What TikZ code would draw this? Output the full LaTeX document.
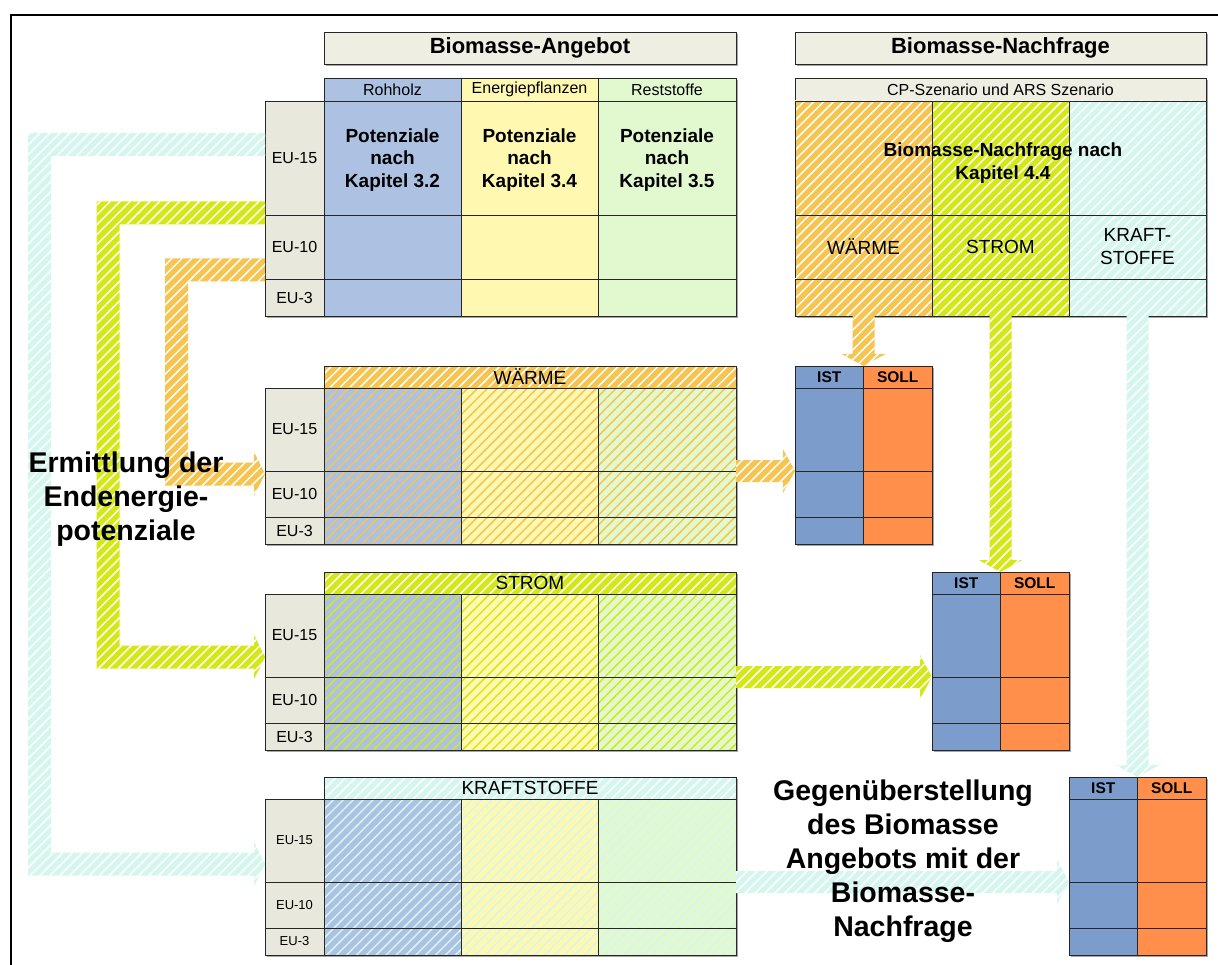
\documentclass[tikz,border=0pt]{standalone}
\usepackage{fontspec}
\setmainfont{Liberation Sans}
\usetikzlibrary{patterns.meta,calc}

\definecolor{kopf}{HTML}{EEEEE2}
\definecolor{zeile}{HTML}{E8E8DC}
\definecolor{holz}{HTML}{ADC2E3}
\definecolor{pflanze}{HTML}{FFF8B0}
\definecolor{rest}{HTML}{E2F9D0}
\definecolor{waerme}{HTML}{F5C451}
\definecolor{strom}{HTML}{D4E817}
\definecolor{kraft}{HTML}{D5F6EF}
\definecolor{ist}{HTML}{7C9CCB}
\definecolor{soll}{HTML}{FF8F4A}

\tikzset{
  zelle/.style={draw=black!85, line width=0.9pt, inner sep=0pt, outer sep=0pt,
    anchor=north west, align=center},
  mass/.style n args={2}{minimum width=#1pt, minimum height=#2pt},
  schraffur/.style={postaction={pattern={Lines[angle=45,distance=7pt,line width=1.5pt]},
    pattern color=#1}},
  schraffur/.default=white,
  rand/.style={postaction={draw=black!85, line width=0.9pt}},
  schatten/.style={fill=black!35},
  klein/.style={font=\fontsize{16}{19}\selectfont},
  mittel/.style={font=\fontsize{19}{23}\selectfont},
  fett/.style={font=\fontsize{19}{22.5}\selectfont\bfseries},
  kopfzeile/.style={font=\fontsize{15.5}{18}\selectfont\bfseries},
  titel/.style={font=\fontsize{22}{26}\selectfont\bfseries},
  riesig/.style={font=\fontsize{28.5}{34}\selectfont\bfseries, align=center},
}

% hatched block arrows: straight right, straight down, and bent (left, down, right)
\newcommand\querpfeil[3]{%
  \path[fill=#3, schraffur] let \p1=(#1), \p2=(#2) in
    (\x1,\y1+11pt) -- (\x2-12pt,\y1+11pt) -- (\x2-12pt,\y1+22pt) -- (\x2,\y1)
    -- (\x2-12pt,\y1-22pt) -- (\x2-12pt,\y1-11pt) -- (\x1,\y1-11pt) -- cycle;}
\newcommand\fallpfeil[3]{%
  \path[fill=#3, schraffur] let \p1=(#1), \p2=(#2) in
    (\x1-11pt,\y1) -- (\x1-11pt,\y2+12pt) -- (\x1-22pt,\y2+12pt) -- (\x1,\y2)
    -- (\x1+22pt,\y2+12pt) -- (\x1+11pt,\y2+12pt) -- (\x1+11pt,\y1) -- cycle;}
\newcommand\winkelpfeil[4]{%
  \path[fill=#4, schraffur] let \p1=(#1), \p2=(#3) in
    (\x1,\y1+11.5pt) -- (#2pt-11.5pt,\y1+11.5pt) -- (#2pt-11.5pt,\y2-11.5pt)
    -- (\x2-11pt,\y2-11.5pt) -- (\x2-11pt,\y2-22pt) -- (\x2,\y2)
    -- (\x2-11pt,\y2+22pt) -- (\x2-11pt,\y2+11.5pt) -- (#2pt+11.5pt,\y2+11.5pt)
    -- (#2pt+11.5pt,\y1-11.5pt) -- (\x1,\y1-11.5pt) -- cycle;}

\begin{document}
\begin{tikzpicture}[x=1pt, y=-1pt]
\useasboundingbox (0,0) rectangle (1218,965);
\draw[line width=2pt] (11,965) -- (11,15) -- (1218,15);

% shadows
\foreach \xa/\ya/\xb/\yb in {324/32/736/64, 795/32/1206/64, 324/78/736/101, 265/101/736/316,
    795/78/1206/316, 324/366/736/388, 265/388/736/544, 324/572/736/594, 265/594/736/750,
    324/777/736/799, 265/799/736/955, 795/366/932/544, 932/572/1069/750, 1069/777/1206/955}
  \fill[schatten] (\xa+2,\ya+2) rectangle (\xb+2,\yb+2);

% Angebot
\node[zelle, titel, fill=kopf, mass={412}{32}] (angebot) at (324,32) {Biomasse-Angebot};
\foreach \x/\w/\farbe/\txt/\kap [count=\i] in {324/137/holz/Rohholz/3.2,
    461/137/pflanze/Energiepflanzen/3.4, 598/138/rest/Reststoffe/3.5}{
  \node[zelle, klein, fill=\farbe, mass={\w}{23}] (quelle\i) at (\x,78) {\txt};
  \node[zelle, fett, fill=\farbe, mass={\w}{114}, text depth=-4pt] at (\x,101) {Potenziale\\nach\\Kapitel \kap};
  \node[zelle, fill=\farbe, mass={\w}{64}] at (\x,215) {};
  \node[zelle, fill=\farbe, mass={\w}{37}] at (\x,279) {};
}
\foreach \eu/\y/\h in {15/101/114, 10/215/64, 3/279/37}
  \node[zelle, klein, fill=zeile, mass={59}{\h}] (ang\eu) at (265,\y) {EU-\eu};

% Nachfrage
\node[zelle, titel, fill=kopf, mass={411}{32}] (nachfrage) at (795,32) {Biomasse-Nachfrage};
\node[zelle, klein, fill=kopf, mass={411}{23}] (szenario) at (795,78) {CP-Szenario und ARS Szenario};
\foreach \x/\farbe/\txt/\n in {795/waerme/WÄRME/wae, 932/strom/STROM/str, 1069/kraft/{KRAFT-\\STOFFE}/kra}{
  \node[zelle, fill=\farbe, schraffur, rand, mass={137}{114}] at (\x,101) {};
  \node[zelle, mittel, fill=\farbe, schraffur, rand, mass={137}{64}] at (\x,215) {\txt};
  \node[zelle, fill=\farbe, schraffur, rand, mass={137}{37}] (bedarf\n) at (\x,279) {};
}
\node[fett, align=center] (kap44) at (1003,163) {Biomasse-Nachfrage nach\\Kapitel 4.4};

% Endenergie je Nutzung
\foreach \yy/\n/\farbe/\txt/\gr in {366/wae/waerme/WÄRME/16, 572/str/strom/STROM/16,
    777/kra/kraft/KRAFTSTOFFE/13}{
  \node[zelle, mittel, fill=\farbe, schraffur, rand, mass={412}{22}] (\n) at (324,\yy) {\txt};
  \foreach \eu/\yo/\h in {15/22/83, 10/105/46, 3/151/27}{
    \node[zelle, fill=zeile, mass={59}{\h}, font=\fontsize{\gr}{\gr}\selectfont]
      (\n\eu) at (265,\yy+\yo) {EU-\eu};
    \foreach \x/\w/\f [count=\spalte] in {324/137/holz, 461/137/pflanze, 598/138/rest}
      \node[zelle, fill=\f, schraffur=\farbe, rand, mass={\w}{\h}] (\n\eu-\spalte) at (\x,\yy+\yo) {};
  }
}

% IST / SOLL
\foreach \x/\yy/\n in {795/366/wae, 932/572/str, 1069/777/kra}{
  \node[zelle, kopfzeile, fill=ist, mass={68.5}{22}] (ist\n) at (\x,\yy) {IST};
  \node[zelle, kopfzeile, fill=soll, mass={68.5}{22}] (soll\n) at (\x+68.5,\yy) {SOLL};
  \foreach \eu/\yo/\h in {15/22/83, 10/105/46, 3/151/27}{
    \node[zelle, fill=ist, mass={68.5}{\h}] (ist\n\eu) at (\x,\yy+\yo) {};
    \node[zelle, fill=soll, mass={68.5}{\h}] (soll\n\eu) at (\x+68.5,\yy+\yo) {};
  }
}

% arrows
\coordinate (kra-ab) at ($(ang15.west)+(0,-13.5)$);
\coordinate (str-ab) at ($(ang15.south west)+(0,-2)$);
\coordinate (wae-ab) at ($(ang10.south west)+(0,-9)$);
\coordinate (kra-an) at ($(kra15.south west)+(0,-18)$);
\coordinate (str-an) at ($(str15.south west)+(0,-20)$);
\coordinate (wae-an) at ($(wae15.south west)+(0,3)$);
\winkelpfeil{kra-ab}{39.5}{kra-an}{kraft}
\winkelpfeil{str-ab}{108}{str-an}{strom}
\winkelpfeil{wae-ab}{176.5}{wae-an}{waerme}

\querpfeil{wae15-3.south east}{istwae15.south west}{waerme}
\querpfeil{str15-3.south east}{iststr15.south west}{strom}
\querpfeil{kra15-3.south east}{istkra15.south west}{kraft}

\fallpfeil{bedarfwae.south}{istwae.north east}{waerme}
\fallpfeil{bedarfstr.south}{iststr.north east}{strom}
\fallpfeil{bedarfkra.south}{istkra.north east}{kraft}

\node[riesig] (ermittlung) at (126,499) {Ermittlung der\\Endenergie-\\potenziale};
\node[riesig] (gegenueber) at (903,861) {Gegenüberstellung\\des Biomasse\\Angebots mit der\\Biomasse-\\Nachfrage};
\end{tikzpicture}
\end{document}
